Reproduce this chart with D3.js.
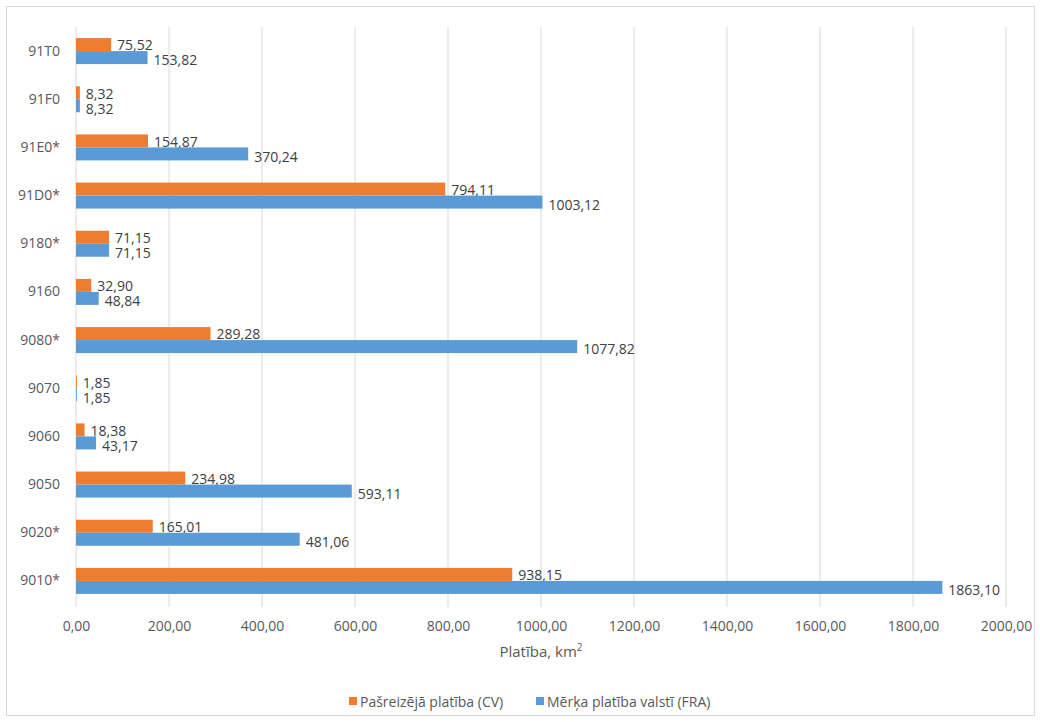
<!DOCTYPE html>
<html><head><meta charset="utf-8">
<script src="https://cdn.jsdelivr.net/npm/d3@7"></script>
<style>body{margin:0;background:#fff;} svg{display:block;font-family:"Open Sans",sans-serif;}</style>
</head><body>
<svg id="c" width="1040" height="722"></svg>
<script>
const categories = ["91T0","91F0","91E0*","91D0*","9180*","9160","9080*","9070","9060","9050","9020*","9010*"];
const currentArea = [75.52,8.32,154.87,794.11,71.15,32.90,289.28,1.85,18.38,234.98,165.01,938.15];
const targetArea = [153.82,8.32,370.24,1003.12,71.15,48.84,1077.82,1.85,43.17,593.11,481.06,1863.10];
const seriesNames = ["Pašreizējā platība (CV)","Mērķa platība valstī (FRA)"];
const xTicks = [0,200,400,600,800,1000,1200,1400,1600,1800,2000];
const colors = ["#ED7D31","#5B9BD5"];

const svg = d3.select("#c");
const fmt = v => d3.format(".2f")(v).replace(".", ",");
svg.append("rect").attr("x",6.5).attr("y",6.5).attr("width",1028).attr("height",709)
  .attr("fill","#fff").attr("stroke","#d9d9d9");

const x = d3.scaleLinear().domain([0,2000]).range([76,1006]);
const y = d3.scaleBand().domain(categories).range([27,605]).paddingInner(0.46).paddingOuter(0.23);

const g = svg.append("g");
g.selectAll("line.grid").data(xTicks).join("line")
  .attr("x1",d=>x(d)).attr("x2",d=>x(d)).attr("y1",27).attr("y2",607)
  .attr("stroke","#d9d9d9").attr("stroke-width",1);

const xAxis = d3.axisBottom(x).tickValues(xTicks).tickFormat(fmt).tickSize(0).tickPadding(14);
const ax = svg.append("g").attr("transform","translate(0,607)").call(xAxis);
ax.select(".domain").remove();
ax.selectAll("text").attr("fill","#595959").attr("font-size",14).attr("font-family","Open Sans");

const yAxis = d3.axisLeft(y).tickSize(0).tickPadding(16);
const ay = svg.append("g").attr("transform","translate(76,0)").call(yAxis);
ay.select(".domain").remove();
ay.selectAll("text").attr("fill","#595959").attr("font-size",14).attr("font-family","Open Sans");

const bh = y.bandwidth()/2;
[currentArea, targetArea].forEach((vals, si) => {
  const rows = categories.map((c,i)=>({c, v: vals[i]}));
  svg.append("g").selectAll("rect").data(rows).join("rect")
    .attr("x", x(0)).attr("y", d => y(d.c) + si*bh)
    .attr("width", d => x(d.v) - x(0)).attr("height", bh)
    .attr("fill", colors[si]);
  svg.append("g").selectAll("text").data(rows).join("text")
    .attr("x", d => x(d.v) + 6).attr("y", d => y(d.c) + si*bh + bh/2 + (si===0?1:3))
    .attr("dy","0.35em").attr("font-size",14).attr("fill","#404040")
    .text(d => fmt(d.v));
});

svg.append("text").attr("x",541).attr("y",657).attr("text-anchor","middle")
  .attr("font-size",15).attr("fill","#595959")
  .html('Platība, km<tspan dy="-6" font-size="10">2</tspan>');

const legend = svg.append("g").attr("transform","translate(0,702)");
const legX = [349, 536];
seriesNames.forEach((n,i)=>{
  legend.append("rect").attr("x",legX[i]).attr("y",-5).attr("width",8).attr("height",8).attr("fill",colors[i]);
  legend.append("text").attr("x",legX[i]+11).attr("y",0).attr("dy","0.35em")
    .attr("font-size",14).attr("fill","#595959").text(n);
});
</script>
</body></html>
